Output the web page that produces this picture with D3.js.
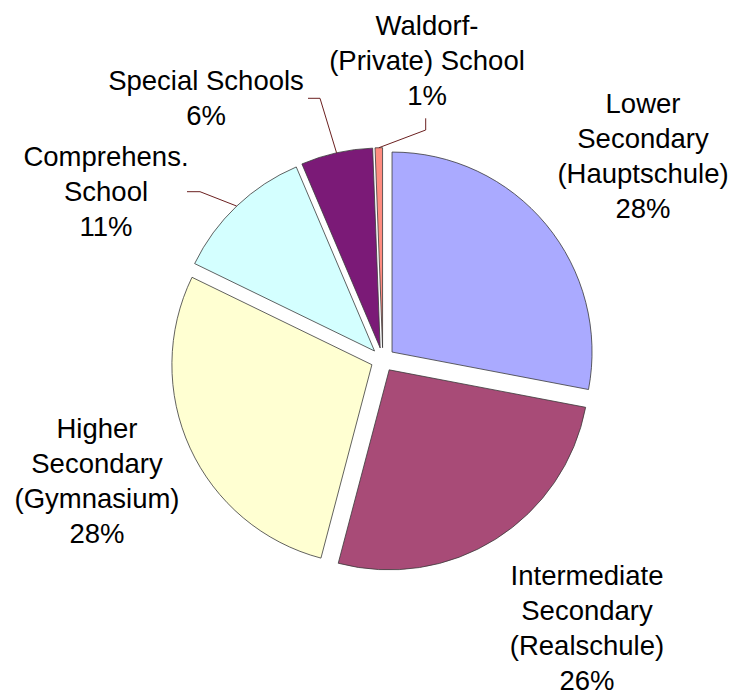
<!DOCTYPE html>
<html>
<head>
<meta charset="utf-8">
<script src="https://cdn.jsdelivr.net/npm/d3@7/dist/d3.min.js"></script>
<style>
  html, body { margin: 0; padding: 0; background: #ffffff; }
  svg { display: block; }
  text { font-family: "Liberation Sans", Arial, sans-serif; }
</style>
</head>
<body>
<svg id="chart" width="736" height="697"></svg>
<script>
// ---- data ----
const categories = [
  "Lower Secondary (Hauptschule)",
  "Intermediate Secondary (Realschule)",
  "Higher Secondary (Gymnasium)",
  "Comprehens. School",
  "Special Schools",
  "Waldorf- (Private) School"
];
const labelLines = [
  ["Lower", "Secondary", "(Hauptschule)"],
  ["Intermediate", "Secondary", "(Realschule)"],
  ["Higher", "Secondary", "(Gymnasium)"],
  ["Comprehens.", "School"],
  ["Special Schools"],
  ["Waldorf-", "(Private) School"]
];
const shares = [28.0, 26.1, 28.1, 11.4, 5.8, 0.6];
const colors = ["#AAAAFF", "#A84B77", "#FFFFD2", "#D4FFFF", "#7B1A77", "#FF8C80"];

// ---- layout (positions only) ----
const W = 736, H = 697;
const cx = 382.8, cy = 359.7, R = 200, explode = 12;
const fontSize = 27.5, lineH = 35;
// label anchor: centre x, first baseline y
const labelPos = [
  [643, 113],
  [587, 585],
  [97, 438],
  [106, 166],
  [206, 90],
  [427, 35]
];
// leader lines: [start x, start y, elbow x, elbow y] (null = none)
const leaders = [null, null, null,
  [187, 191.7, 200, 191.7],
  [308, 98.3, 320, 98.3],
  [425.7, 118.3, 425.7, 130]
];

const svg = d3.select("#chart");
const g = svg.append("g").attr("transform", `translate(${cx},${cy})`);

const pie = d3.pie().sort(null).value(d => d).startAngle(0).endAngle(2 * Math.PI);
const arcs = pie(shares);
const arc = d3.arc().innerRadius(0).outerRadius(R);
const total = d3.sum(shares);
const pct = d => Math.round(d / total * 100) + "%";

function offsetOf(a) {
  const m = (a.startAngle + a.endAngle) / 2;
  return [Math.sin(m) * explode, -Math.cos(m) * explode];
}

g.selectAll("path.slice")
  .data(arcs)
  .enter().append("path")
  .attr("class", "slice")
  .attr("d", arc)
  .attr("transform", d => { const o = offsetOf(d); return `translate(${o[0]},${o[1]})`; })
  .attr("fill", (d, i) => colors[i])
  .attr("stroke", "#3a3a3a")
  .attr("stroke-width", 0.8)
  .attr("stroke-linejoin", "round");

// leader lines
arcs.forEach((a, i) => {
  const L = leaders[i];
  if (!L) return;
  const m = (a.startAngle + a.endAngle) / 2;
  const o = offsetOf(a);
  const ex = cx + o[0] + Math.sin(m) * R;
  const ey = cy + o[1] - Math.cos(m) * R;
  svg.append("polyline")
    .attr("points", `${L[0]},${L[1]} ${L[2]},${L[3]} ${ex},${ey}`)
    .attr("fill", "none")
    .attr("stroke", "#6b2020")
    .attr("stroke-width", 1);
});

// labels
arcs.forEach((a, i) => {
  const lines = labelLines[i].concat([pct(shares[i])]);
  const t = svg.append("text")
    .attr("text-anchor", "middle")
    .attr("font-size", fontSize)
    .attr("fill", "#000");
  lines.forEach((ln, k) => {
    t.append("tspan")
      .attr("x", labelPos[i][0])
      .attr("y", labelPos[i][1] + k * lineH)
      .text(ln);
  });
});
</script>
</body>
</html>
